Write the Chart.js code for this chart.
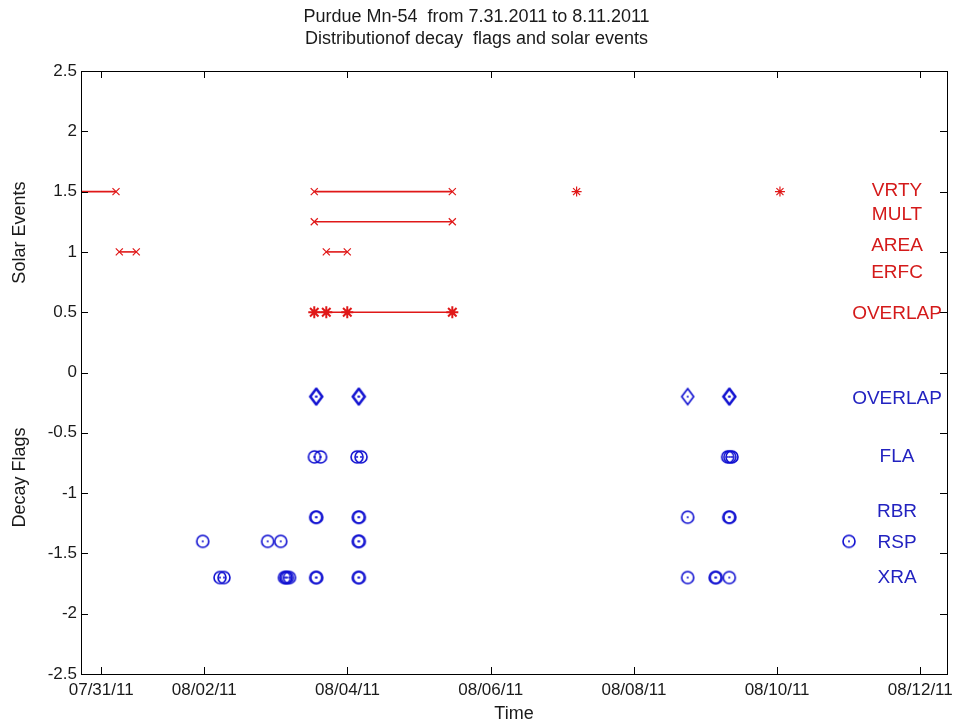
<!DOCTYPE html>
<html>
<head>
<meta charset="utf-8">
<title>Purdue Mn-54 decay flags and solar events</title>
<script src="https://cdn.jsdelivr.net/npm/chart.js@4.4.1/dist/chart.umd.min.js"></script>
<style>
  html, body { margin: 0; padding: 0; background: #fff; }
  canvas { display: block; }
</style>
</head>
<body>
<canvas id="chart" width="953" height="724"></canvas>
<script>
// x values are days counted from 07/31/11 00:00
const dayMin = 0.278;
const dayMax = 12.373;
const dayTicks = [0.56, 2, 4, 6, 8, 10, 12];
const dayTickLabels = ["07/31/11", "08/02/11", "08/04/11", "08/06/11", "08/08/11", "08/10/11", "08/12/11"];
const levelTicks = [-2.5, -2, -1.5, -1, -0.5, 0, 0.5, 1, 1.5, 2, 2.5];

// solar events (start/end of each interval)
const eventNames = ["VRTY", "MULT", "AREA", "ERFC", "OVERLAP"];
const eventLevels = [1.5, 1.25, 1, 0.75, 0.5];
const eventLabelY = [1.508, 1.309, 1.054, 0.828, 0.488];
const vrtySegments = [[0.0, 0.767], [3.536, 5.464]];
const vrtySingles = [7.2, 10.04];
const multSegments = [[3.536, 5.464]];
const areaSegments = [[0.813, 1.05], [3.704, 3.997]];
const erfcSegments = [];
const overlapEvents = [3.536, 3.704, 3.997, 5.464];

// decay flags
const flagNames = ["OVERLAP", "FLA", "RBR", "RSP", "XRA"];
const flagLevels = [-0.2, -0.7, -1.2, -1.4, -1.7];
const flagLabelY = [-0.218, -0.699, -1.156, -1.413, -1.703];
const flagOverlap = [3.556, 3.57, 4.151, 4.165, 8.751, 9.325, 9.34];
const flagFLA = [3.539, 3.623, 4.133, 4.189, 9.31, 9.34, 9.37];
const flagRBR = [3.556, 3.57, 4.151, 4.165, 8.751, 9.325, 9.34];
const flagRSP = [1.978, 2.885, 3.067, 4.151, 4.165, 11.004];
const flagXRA = [2.219, 2.275, 3.12, 3.14, 3.16, 3.19, 3.556, 3.57, 4.151, 4.165, 8.751, 9.135, 9.15, 9.332];

const labelDay = 11.675;
const RED = "#e01818";
const BLUE = "#0c0cd0";
const FONT = "'Liberation Sans', Arial, Helvetica, sans-serif";

// marker bitmaps: MATLAB-like circle and diamond with a centre dot
function makeMarker(kind) {
  const c = document.createElement("canvas");
  c.width = 18; c.height = 20;
  const g = c.getContext("2d");
  g.strokeStyle = BLUE;
  g.fillStyle = BLUE;
  g.lineWidth = 1.6;
  g.beginPath();
  if (kind === "circle") {
    g.arc(9, 10, 6, 0, Math.PI * 2);
  } else {
    g.moveTo(9, 2); g.lineTo(15, 10); g.lineTo(9, 18); g.lineTo(3, 10); g.closePath();
  }
  g.stroke();
  g.beginPath();
  g.arc(9, 10, 1, 0, Math.PI * 2);
  g.fill();
  return c;
}
const circleMark = makeMarker("circle");
const diamondMark = makeMarker("diamond");

const datasets = [];
const addSegments = (segs, level) => {
  segs.forEach(s => {
    datasets.push({
      data: s.map(d => ({ x: d, y: level })),
      showLine: true,
      borderColor: RED,
      borderWidth: 1.6,
      pointStyle: "crossRot",
      pointRadius: 5,
      pointBorderColor: RED,
      pointBorderWidth: 1.2
    });
  });
};
addSegments(vrtySegments, eventLevels[0]);
addSegments(multSegments, eventLevels[1]);
addSegments(areaSegments, eventLevels[2]);
addSegments(erfcSegments, eventLevels[3]);

datasets.push({
  data: vrtySingles.map(d => ({ x: d, y: eventLevels[0] })),
  showLine: false,
  pointStyle: "star",
  pointRadius: 5,
  pointBorderColor: RED,
  pointBorderWidth: 1.2
});
datasets.push({
  data: overlapEvents.map(d => ({ x: d, y: eventLevels[4] })),
  showLine: true,
  borderColor: RED,
  borderWidth: 1.6,
  pointStyle: "star",
  pointRadius: 6,
  pointBorderColor: RED,
  pointBorderWidth: 2
});

[flagOverlap, flagFLA, flagRBR, flagRSP, flagXRA].forEach((days, i) => {
  datasets.push({
    data: days.map(d => ({ x: d, y: flagLevels[i] })),
    showLine: false,
    pointStyle: i === 0 ? diamondMark : circleMark
  });
});

// box, inward ticks and all free text
const framePlugin = {
  id: "frame",
  afterDraw(chart) {
    const { ctx, chartArea: a, scales: { x, y } } = chart;
    ctx.save();
    ctx.strokeStyle = "#000";
    ctx.lineWidth = 1;
    ctx.strokeRect(Math.round(a.left) + 0.5, Math.round(a.top) + 0.5,
      Math.round(a.right - a.left), Math.round(a.bottom - a.top));
    ctx.beginPath();
    x.ticks.forEach(t => {
      const px = Math.round(x.getPixelForValue(t.value)) + 0.5;
      ctx.moveTo(px, a.bottom); ctx.lineTo(px, a.bottom - 7);
      ctx.moveTo(px, a.top); ctx.lineTo(px, a.top + 7);
    });
    y.ticks.forEach(t => {
      const py = Math.round(y.getPixelForValue(t.value)) + 0.5;
      ctx.moveTo(a.left, py); ctx.lineTo(a.left + 7, py);
      ctx.moveTo(a.right, py); ctx.lineTo(a.right - 7, py);
    });
    ctx.stroke();

    ctx.fillStyle = "#1a1a1a";
    ctx.textAlign = "center";
    ctx.textBaseline = "middle";
    ctx.font = "18px " + FONT;
    ctx.fillText("Purdue Mn-54  from 7.31.2011 to 8.11.2011", chart.width / 2, 17);
    ctx.fillText("Distributionof decay  flags and solar events", chart.width / 2, 39);
    ctx.fillText("Time", (a.left + a.right) / 2, 714);

    const side = (text, level) => {
      ctx.save();
      ctx.translate(a.left - 61, y.getPixelForValue(level));
      ctx.rotate(-Math.PI / 2);
      ctx.fillText(text, 0, 0);
      ctx.restore();
    };
    side("Solar Events", 1.16);
    side("Decay Flags", -0.87);

    ctx.font = "19px " + FONT;
    ctx.fillStyle = "#d41a1a";
    eventNames.forEach((n, i) => ctx.fillText(n, x.getPixelForValue(labelDay), y.getPixelForValue(eventLabelY[i])));
    ctx.fillStyle = "#2222c0";
    flagNames.forEach((n, i) => ctx.fillText(n, x.getPixelForValue(labelDay), y.getPixelForValue(flagLabelY[i])));
    ctx.restore();
  }
};

new Chart(document.getElementById("chart"), {
  type: "scatter",
  data: { datasets },
  options: {
    responsive: false,
    animation: false,
    devicePixelRatio: 1,
    layout: { autoPadding: false, padding: { top: 71, right: 6, left: 0, bottom: 0 } },
    plugins: { legend: { display: false }, tooltip: { enabled: false } },
    events: [],
    scales: {
      x: {
        type: "linear",
        min: dayMin,
        max: dayMax,
        afterBuildTicks: s => { s.ticks = dayTicks.map(v => ({ value: v })); },
        afterFit: s => { s.height = 50; s.paddingLeft = 0; s.paddingRight = 0; },
        grid: { display: false, drawTicks: false },
        border: { display: false },
        ticks: {
          autoSkip: false,
          maxRotation: 0,
          padding: 6,
          color: "#1a1a1a",
          font: { family: FONT, size: 17 },
          callback: (v, i) => dayTickLabels[i]
        }
      },
      y: {
        min: -2.5,
        max: 2.5,
        afterBuildTicks: s => { s.ticks = levelTicks.map(v => ({ value: v })); },
        afterFit: s => { s.width = 81; s.paddingTop = 0; s.paddingBottom = 0; },
        grid: { display: false, drawTicks: false },
        border: { display: false },
        ticks: {
          padding: 4,
          color: "#1a1a1a",
          font: { family: FONT, size: 17 },
          callback: v => String(v)
        }
      }
    }
  },
  plugins: [framePlugin]
});
</script>
</body>
</html>
